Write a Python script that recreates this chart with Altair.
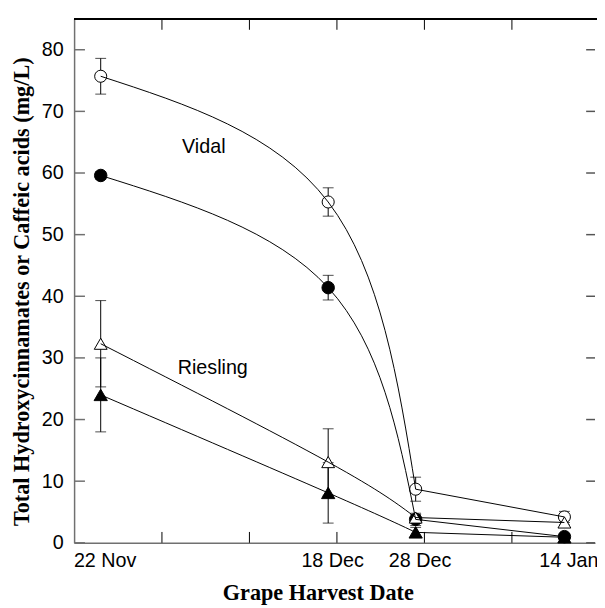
import altair as alt
import pandas as pd

# ---- data ----
days = [0, 26, 36, 53]                      # days after 22 Nov
date_labels = ["22 Nov", "18 Dec", "28 Dec", "14 Jan"]
series_names = ["Vidal open", "Vidal filled", "Riesling open", "Riesling filled"]

vidal_open = [75.7, 55.3, 8.7, 4.2]
vidal_open_err = [2.9, 2.3, 1.95, 0.9]
vidal_filled = [59.6, 41.4, 3.8, 1.0]
vidal_filled_err = [0.6, 2.0, 1.0, 0.5]
riesling_open = [32.3, 13.1, 4.1, 3.3]
riesling_open_err = [7.0, 5.4, 0.5, 0.4]
riesling_filled = [24.0, 8.1, 1.7, 0.9]
riesling_filled_err = [6.0, 4.9, 0.8, 0.4]

x_minor_ticks = [7, 17, 27, 37, 47]
y_ticks = [0, 10, 20, 30, 40, 50, 60, 70, 80]

annotation_text = ["Vidal", "Riesling"]
annotation_day = [9.3, 8.8]
annotation_value = [63.2, 27.4]

# ---- tables ----
vals = [vidal_open, vidal_filled, riesling_open, riesling_filled]
errs = [vidal_open_err, vidal_filled_err, riesling_open_err, riesling_filled_err]
rows = []
for name, v, e in zip(series_names, vals, errs):
    for d, val, er in zip(days, v, e):
        rows.append({"series": name, "day": d, "value": val,
                     "lo": val - er, "hi": val + er})
df = pd.DataFrame(rows)
xt_df = pd.DataFrame({"day": x_minor_ticks})
yt_df = pd.DataFrame({"value": y_ticks})
ann_df = pd.DataFrame({"label": annotation_text, "day": annotation_day,
                       "value": annotation_value})

W, H = 528, 531
xs = alt.Scale(domain=[-3.04, 56.5], nice=False, zero=False)
ys = alt.Scale(domain=[0, 85], nice=False, zero=False)

label_expr = " : ".join(
    f"datum.value == {d} ? '{l}'" for d, l in zip(days, date_labels)) + " : ''"

xaxis = alt.Axis(values=days, labelExpr=label_expr, ticks=False, tickSize=0,
                 grid=False, labelFontSize=20, labelPadding=24,
                 labelBaseline="alphabetic", labelFlush=False, labelOverlap=False,
                 labelOffset=4, labelColor="black",
                 domainColor="#707070", domainWidth=1.5,
                 title="Grape Harvest Date", titleFont="Liberation Serif",
                 titleFontWeight="bold", titleFontSize=22.5, titleColor="black",
                 titleX=247, titleY=57, titleBaseline="alphabetic", titleAlign="center")
yaxis = alt.Axis(values=y_ticks, ticks=False, tickSize=0, grid=False,
                 labelFontSize=20, labelPadding=11, labelColor="black",
                 domainColor="#707070", domainWidth=1.5,
                 title="Total Hydroxycinnamates or Caffeic acids (mg/L)",
                 titleFont="Liberation Serif", titleFontWeight="bold",
                 titleFontSize=22.5, titleColor="black", titleAngle=270,
                 titleX=-46, titleY=276, titleBaseline="alphabetic",
                 titleAlign="center")

X = alt.X("day:Q", scale=xs, axis=xaxis)
Yv = alt.Y("value:Q", scale=ys, axis=yaxis)
base = alt.Chart(df)

err_rule = base.mark_rule(color="black", strokeWidth=1).encode(
    x=X, y=alt.Y("lo:Q", scale=ys, axis=yaxis), y2="hi:Q")
cap_lo = base.mark_tick(orient="horizontal", size=11, thickness=1, color="black").encode(
    x=X, y=alt.Y("lo:Q", scale=ys, axis=yaxis))
cap_hi = base.mark_tick(orient="horizontal", size=11, thickness=1, color="black").encode(
    x=X, y=alt.Y("hi:Q", scale=ys, axis=yaxis))

points = base.mark_point(filled=True, stroke="black", strokeWidth=1, opacity=1).encode(
    x=X, y=Yv,
    shape=alt.Shape("series:N", legend=None,
                    scale=alt.Scale(domain=series_names,
                                    range=["circle", "circle", "triangle-up", "triangle-up"])),
    fill=alt.Fill("series:N", legend=None,
                  scale=alt.Scale(domain=series_names,
                                  range=["white", "black", "white", "black"])),
    size=alt.Size("series:N", legend=None,
                  scale=alt.Scale(domain=series_names, range=[150, 180, 170, 180])),
    order=alt.Order("series:N", sort="descending"))

# smooth spline through the first three harvests, then a straight run to the last
lines_a = base.transform_filter(alt.datum.day <= days[2]).mark_line(
    interpolate="natural", color="black", strokeWidth=1).encode(
    x=X, y=Yv, detail="series:N")
lines_b = base.transform_filter(alt.datum.day >= days[2]).mark_line(
    interpolate="linear", color="black", strokeWidth=1).encode(
    x=X, y=Yv, detail="series:N")

xt_bottom = alt.Chart(xt_df).mark_rule(color="black", strokeWidth=1).encode(
    x=X, y=alt.value(H), y2=alt.value(H - 11))
xt_top = alt.Chart(xt_df).mark_rule(color="black", strokeWidth=1).encode(
    x=X, y=alt.value(0), y2=alt.value(11))
yt_left = alt.Chart(yt_df).mark_rule(color="#707070", strokeWidth=1.5).encode(
    y=Yv, x=alt.value(0), x2=alt.value(11))
yt_right = alt.Chart(yt_df).mark_rule(color="#555555", strokeWidth=1.5).encode(
    y=Yv, x=alt.value(W - 9), x2=alt.value(W))
top_line = alt.Chart(xt_df).mark_rule(color="black", strokeWidth=1.5).encode(
    x=alt.value(0), x2=alt.value(W + 2), y=alt.value(0))

ann = alt.Chart(ann_df).mark_text(align="left", baseline="alphabetic", fontSize=20,
                                  font="Liberation Sans", color="black").encode(
    x=X, y=Yv, text="label:N")

chart = alt.layer(err_rule, cap_lo, cap_hi, points, lines_a, lines_b, xt_bottom, xt_top,
                  yt_left, yt_right, top_line, ann).properties(
    width=W, height=H,
    autosize=alt.AutoSizeParams(type="none"),
    padding={"left": 67, "top": 7, "right": 2, "bottom": 62},
).configure(font="Liberation Sans").configure_view(stroke=None)

chart.save("out.html", embed_options={"renderer": "svg", "actions": False})
